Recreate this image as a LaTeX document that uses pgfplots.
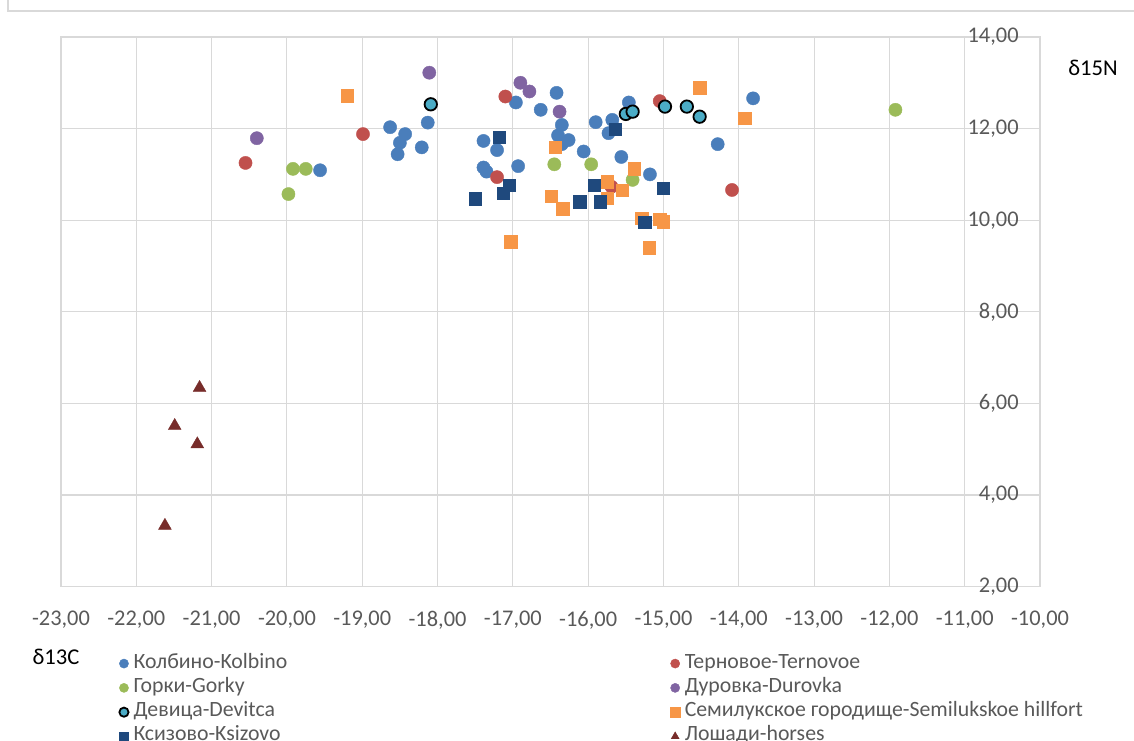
\documentclass[border=0pt]{standalone}
\usepackage{fontspec}
\setmainfont{Carlito}
\usepackage{pgfplots}
\pgfplotsset{compat=1.18}

\definecolor{cKol}{HTML}{4A7EBB}
\definecolor{cTer}{HTML}{C0504D}
\definecolor{cGor}{HTML}{9BBB59}
\definecolor{cDur}{HTML}{8064A2}
\definecolor{cDev}{HTML}{4BACC6}
\definecolor{cSem}{HTML}{F79646}
\definecolor{cKsi}{HTML}{1F497D}
\definecolor{cHor}{HTML}{772C2A}
\definecolor{gridgray}{HTML}{D9D9D9}
\definecolor{tickgray}{HTML}{595959}

\begin{document}
\begin{tikzpicture}[x=0.5bp,y=0.5bp]
\useasboundingbox (0,0) rectangle (1134,740);
\draw[gridgray, line width=0.75bp] (8,740) -- (8,729) -- (1134,729);
\begin{axis}[
  at={(30.5bp,76.7bp)}, anchor=south west,
  scale only axis, width=489.5bp, height=274.8bp,
  xmin=-23, xmax=-10, ymin=2, ymax=14,
  xtick={-23,-22,...,-10}, ytick={2,4,...,14},
  grid=major,
  major grid style={draw=gridgray, line width=0.55bp},
  axis line style={draw=gridgray, line width=0.55bp},
  major tick length=0pt,
  yticklabel pos=right,
  tick label style={font=\fontsize{11.2bp}{13bp}\selectfont, text=tickgray},
  xticklabel style={yshift=-8.7bp},
  yticklabel style={anchor=east, xshift=-7.2bp},
  /pgf/number format/fixed,
  /pgf/number format/fixed zerofill,
  /pgf/number format/precision=2,
  /pgf/number format/use comma,
  /pgf/number format/assume math mode=true,
  legend columns=2,
  legend cell align=left,
  legend style={at={(0.0592,-0.1172)}, anchor=north west, draw=none, fill=none,
    inner sep=0pt, column sep=2.5bp, row sep=0pt,
    font=\fontsize{10.9bp}{12.2bp}\selectfont, text=tickgray,
    nodes={inner sep=0pt, text height=8.3bp, text depth=3.85bp}},
  legend image code/.code={\draw[#1, mark size=2.3bp] plot coordinates {(0cm,0cm)};},
]
% Колбино-Kolbino
\addplot[only marks, mark=*, mark size=3.3bp, mark options={fill=cKol, draw=cKol, line width=0.2bp}] coordinates {
(-18.63,12.03) (-18.13,12.13) (-18.43,11.88) (-18.50,11.69) (-18.53,11.44) (-18.21,11.59)
(-19.56,11.09) (-16.96,12.57) (-16.42,12.78) (-16.63,12.41) (-16.35,12.08) (-16.40,11.85)
(-16.26,11.75) (-16.35,11.66) (-17.39,11.73) (-17.21,11.53) (-16.06,11.50) (-15.90,12.14)
(-15.68,12.19) (-15.73,11.90) (-15.46,12.57) (-17.39,11.15) (-17.35,11.06) (-16.93,11.18)
(-15.56,11.38) (-13.81,12.66) (-14.28,11.66) (-15.18,11.00)
};
\addlegendentry{\makebox[266bp][l]{Колбино-Kolbino}}
% Терновое-Ternovoe
\addplot[only marks, mark=*, mark size=3.3bp, mark options={fill=cTer, draw=cTer, line width=0.2bp}] coordinates {
(-20.55,11.25) (-18.99,11.88) (-17.10,12.70) (-17.21,10.94) (-15.69,10.73) (-15.05,12.60) (-14.09,10.66)
};
\addlegendentry{Терновое-Ternovoe}
% Горки-Gorky
\addplot[only marks, mark=*, mark size=3.3bp, mark options={fill=cGor, draw=cGor, line width=0.2bp}] coordinates {
(-19.98,10.57) (-19.92,11.12) (-19.75,11.12) (-16.45,11.22) (-15.96,11.22) (-15.41,10.88) (-11.92,12.41)
};
\addlegendentry{\makebox[266bp][l]{Горки-Gorky}}
% Дуровка-Durovka
\addplot[only marks, mark=*, mark size=3.3bp, mark options={fill=cDur, draw=cDur, line width=0.2bp}] coordinates {
(-20.40,11.79) (-18.11,13.22) (-16.90,13.00) (-16.78,12.81) (-16.38,12.37)
};
\addlegendentry{Дуровка-Durovka}
% Девица-Devitca
\addplot[only marks, mark=*, mark size=3.1bp, mark options={fill=cDev, draw=black, line width=0.9bp}] coordinates {
(-18.09,12.53) (-15.50,12.32) (-15.41,12.37) (-14.98,12.48) (-14.69,12.48) (-14.52,12.26)
};
\addlegendentry{\makebox[266bp][l]{Девица-Devitca}}
% Семилукское городище
\addplot[only marks, mark=square*, mark size=3.1bp, mark options={fill=cSem, draw=cSem, line width=0.2bp}] coordinates {
(-19.20,12.72) (-16.44,11.59) (-17.03,9.53) (-16.49,10.53) (-16.34,10.25) (-15.75,10.84)
(-15.75,10.48) (-15.55,10.66) (-15.39,11.12) (-15.29,10.04) (-15.05,10.02) (-15.00,9.97)
(-15.19,9.40) (-14.52,12.89) (-13.92,12.23)
};
\addlegendentry{Семилукское городище-Semilukskoe hillfort}
% Ксизово-Ksizovo
\addplot[only marks, mark=square*, mark size=3.1bp, mark options={fill=cKsi, draw=cKsi, line width=0.2bp}] coordinates {
(-17.18,11.81) (-17.05,10.77) (-17.13,10.59) (-17.50,10.47) (-16.11,10.40) (-15.84,10.40)
(-15.92,10.77) (-15.64,11.99) (-15.00,10.70) (-15.25,9.95)
};
\addlegendentry{\makebox[266bp][l]{Ксизово-Ksizovo}}
% Лошади-horses
\addplot[only marks, mark=triangle*, mark size=3.7bp, mark options={fill=cHor, draw=cHor, line width=0.2bp}] coordinates {
(-21.16,6.34) (-21.49,5.51) (-21.19,5.11) (-21.62,3.33)
};
\addlegendentry{Лошади-horses}
\end{axis}
\node[font=\fontsize{11.3bp}{13bp}\selectfont] at (56,83) {δ13C};
\node[font=\fontsize{11.3bp}{13bp}\selectfont] at (1093,672) {δ15N};
\end{tikzpicture}
\end{document}
